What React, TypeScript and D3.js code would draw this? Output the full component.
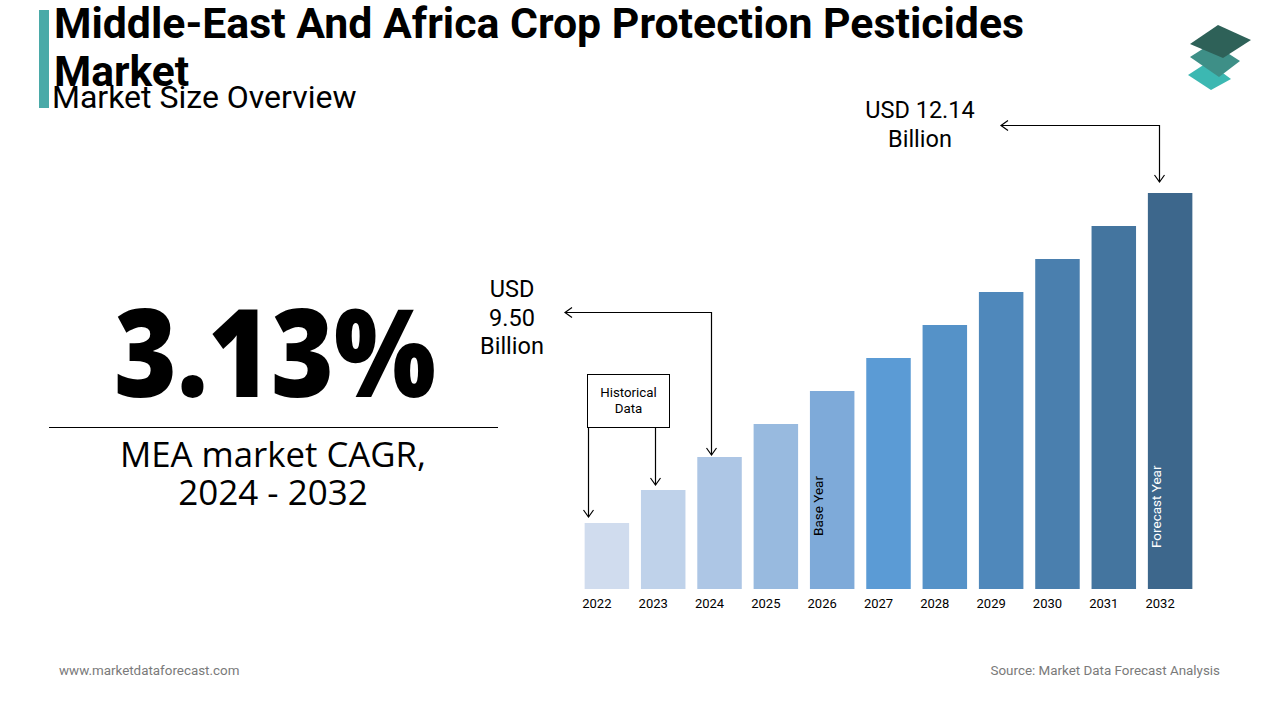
import React from "react";
import * as d3 from "d3";

const years = ["2022", "2023", "2024", "2025", "2026", "2027", "2028", "2029", "2030", "2031", "2032"];
const barValues = [2, 3, 4, 5, 6, 7, 8, 9, 10, 11, 12];
const barColors = ["#d0dcee", "#bfd2ea", "#adc6e5", "#98badf", "#7eaad9", "#5b9bd5", "#5592c8", "#4f88bb", "#4a7fae", "#44759f", "#3d678c"];
const cagrText = "3.13%";
const startLabel = ["USD", "9.50", "Billion"];
const endLabel = ["USD 12.14", "Billion"];

const W = 1280;
const H = 720;

export default function App() {
  const x = d3.scaleBand<string>().domain(years).range([579, 1198]).paddingInner(0.21).paddingOuter(0.1);
  const y = d3.scaleLinear().domain([0, 12]).range([589, 193]);
  const bw = x.bandwidth();
  const cx = (yr: string) => (x(yr) as number) + bw / 2;

  const arrowHead = (px: number, py: number, dir: "down" | "left") => {
    const s = 7;
    if (dir === "down") return `M${px - s / 1.4},${py - s} L${px},${py} L${px + s / 1.4},${py - s}`;
    return `M${px + s},${py - s / 1.4} L${px},${py} L${px + s},${py + s / 1.4}`;
  };

  const y2024 = y(barValues[2]);
  const y2032 = y(barValues[10]);
  const y2022 = y(barValues[0]);
  const y2023 = y(barValues[1]);

  return (
    <svg width={W} height={H} style={{ display: "block", position: "absolute", left: 0, top: 0 }} fontFamily="Roboto, sans-serif">
      <rect width={W} height={H} fill="#ffffff" />
      {/* title */}
      <rect x={39} y={10} width={10} height={98} fill="#4aaaa8" />
      <text x={54} y={38} fontSize={42.5} fontWeight={700} fill="#000" textLength={970} lengthAdjust="spacingAndGlyphs">Middle-East And Africa Crop Protection Pesticides</text>
      <text x={54} y={86} fontSize={42.5} fontWeight={700} fill="#000">Market</text>
      <text x={52} y={108} fontSize={32} fill="#000">Market Size Overview</text>

      {/* logo */}
      <g>
        <path d="M1188,75 L1208,62 L1231,79 L1211,90 Z" fill="#3cb8b2" />
        <path d="M1190,57 L1212,43 L1240,61 L1219,77 Z" fill="#3e8f87" />
        <path d="M1190,44 L1218,25 L1251,40 L1223,58 Z" fill="#2e6158" />
      </g>

      {/* left panel */}
      <text x={275} y={397} textAnchor="middle" fontSize={122} fontWeight={800} fontFamily="'Open Sans', sans-serif" textLength={322} lengthAdjust="spacingAndGlyphs" fill="#000">{cagrText}</text>
      <line x1={49} x2={498} y1={427.5} y2={427.5} stroke="#000" strokeWidth={1.2} />
      <text x={273} y={467} textAnchor="middle" fontSize={35} fontFamily="'Open Sans', sans-serif" textLength={306} lengthAdjust="spacingAndGlyphs" fill="#000">MEA market CAGR,</text>
      <text x={273} y={505} textAnchor="middle" fontSize={35} fontFamily="'Open Sans', sans-serif" fill="#000">2024 - 2032</text>

      {/* bars */}
      {years.map((yr, i) => (
        <rect key={yr} x={x(yr)} y={y(barValues[i])} width={bw} height={y(0) - y(barValues[i])} fill={barColors[i]} />
      ))}
      {years.map((yr) => (
        <text key={"l" + yr} x={cx(yr) - 10} y={608} textAnchor="middle" fontSize={13} fill="#000">{yr}</text>
      ))}
      <text transform={`translate(${(x("2026") as number) + 13},${536}) rotate(-90)`} fontSize={13.5} fill="#000">Base Year</text>
      <text transform={`translate(${(x("2032") as number) + 13},${548}) rotate(-90)`} fontSize={13.5} fill="#fff">Forecast Year</text>

      {/* historical data box */}
      <rect x={587.5} y={374.5} width={82} height={53} fill="#fff" stroke="#000" strokeWidth={1} />
      <text x={628.5} y={397} textAnchor="middle" fontSize={13.3} fill="#000">Historical</text>
      <text x={628.5} y={413} textAnchor="middle" fontSize={13.3} fill="#000">Data</text>
      <line x1={588.5} x2={588.5} y1={427} y2={y2022 - 6} stroke="#000" strokeWidth={1.2} />
      <path d={arrowHead(588.5, y2022 - 6, "down")} fill="none" stroke="#000" strokeWidth={1.2} />
      <line x1={655.5} x2={655.5} y1={427} y2={y2023 - 5} stroke="#000" strokeWidth={1.2} />
      <path d={arrowHead(655.5, y2023 - 5, "down")} fill="none" stroke="#000" strokeWidth={1.2} />

      {/* USD 9.50 annotation */}
      <path d={`M565,312.5 L711.5,312.5 L711.5,${y2024 - 2}`} fill="none" stroke="#000" strokeWidth={1.2} />
      <path d={arrowHead(565, 312.5, "left")} fill="none" stroke="#000" strokeWidth={1.2} />
      <path d={arrowHead(711.5, y2024 - 2, "down")} fill="none" stroke="#000" strokeWidth={1.2} />
      {startLabel.map((t, i) => (
        <text key={t} x={512} y={297 + i * 28.5} textAnchor="middle" fontSize={23.5} fill="#000">{t}</text>
      ))}

      {/* USD 12.14 annotation */}
      <path d={`M1001,125.5 L1159.5,125.5 L1159.5,${y2032 - 11}`} fill="none" stroke="#000" strokeWidth={1.2} />
      <path d={arrowHead(1001, 125.5, "left")} fill="none" stroke="#000" strokeWidth={1.2} />
      <path d={arrowHead(1159.5, y2032 - 11, "down")} fill="none" stroke="#000" strokeWidth={1.2} />
      {endLabel.map((t, i) => (
        <text key={t} x={920} y={118 + i * 29} textAnchor="middle" fontSize={23.5} fill="#000">{t}</text>
      ))}

      {/* footer */}
      <text x={59} y={675} fontSize={13.4} fill="#7a7a7a">www.marketdataforecast.com</text>
      <text x={1220} y={675} textAnchor="end" fontSize={13.4} fill="#7a7a7a">Source: Market Data Forecast Analysis</text>
    </svg>
  );
}
